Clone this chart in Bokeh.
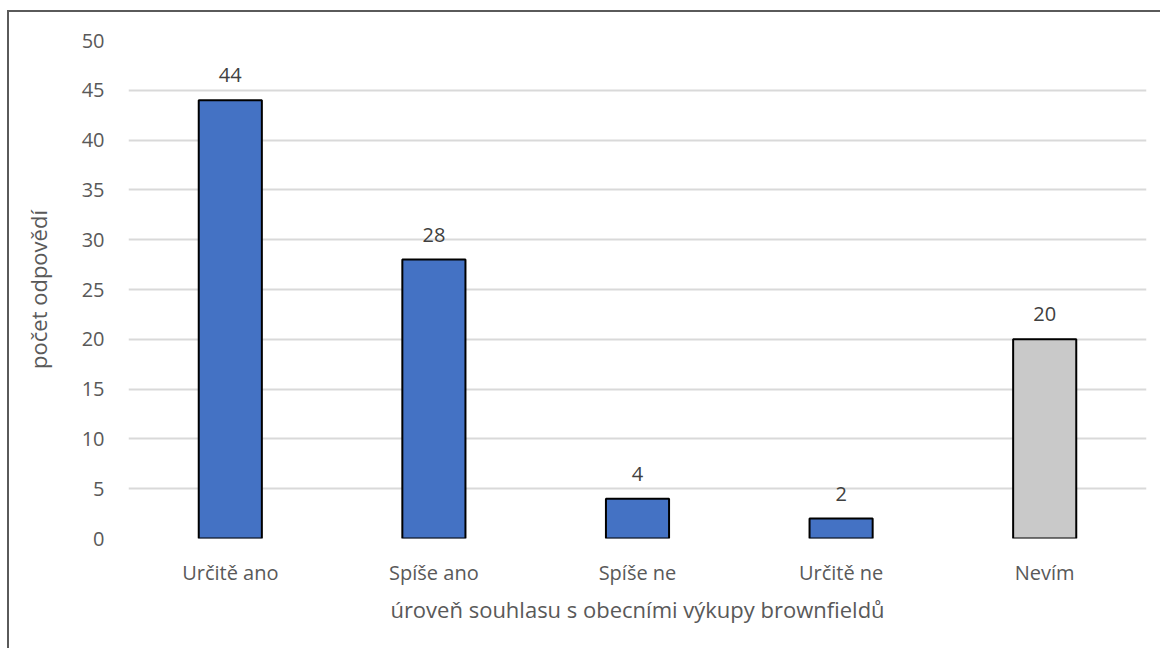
from bokeh.plotting import figure
from bokeh.models import ColumnDataSource, FactorRange, Range1d, FixedTicker
from bokeh.embed import file_html
from bokeh.resources import INLINE
from bokeh.core.properties import value

categories = ["Určitě ano", "Spíše ano", "Spíše ne", "Určitě ne", "Nevím"]
counts = [44, 28, 4, 2, 20]
bar_colors = ["#4472C4", "#4472C4", "#4472C4", "#4472C4", "#C9C9C9"]
y_ticks = [0, 5, 10, 15, 20, 25, 30, 35, 40, 45, 50]

FONT = "Open Sans"
TXT = "#595959"

src = ColumnDataSource(dict(cat=categories, val=counts, col=bar_colors,
                            lab=[str(v) for v in counts]))

p = figure(x_range=FactorRange(*categories, range_padding=0),
           y_range=Range1d(0, 50),
           width=1153, height=638, output_backend="svg", toolbar_location=None,
           min_border_left=119, min_border_right=16, min_border_top=28,
           min_border_bottom=112)
p.styles = {"border-left": "2px solid #5a5a5a", "border-top": "2px solid #5a5a5a",
            "margin-left": "7px", "margin-top": "10px"}
p.outline_line_color = None
p.background_fill_color = "white"

p.vbar(x="cat", top="val", width=0.31, source=src, fill_color="col",
       line_color="black", line_width=2)
p.text(x="cat", y="val", text="lab", source=src, y_offset=-18,
       text_align="center", text_baseline="bottom", text_font=value(FONT),
       text_font_size="20px", text_color="#404040")

p.ygrid.grid_line_color = "#D9D9D9"
p.ygrid.grid_line_width = 2
p.xgrid.grid_line_color = None
p.yaxis.ticker = FixedTicker(ticks=y_ticks)

for ax in (p.xaxis, p.yaxis):
    ax.axis_line_color = None
    ax.major_tick_line_color = None
    ax.minor_tick_line_color = None
    ax.major_label_text_font = FONT
    ax.major_label_text_font_size = "20px"
    ax.major_label_text_color = TXT
    ax.axis_label_text_font = FONT
    ax.axis_label_text_font_size = "22px"
    ax.axis_label_text_color = TXT
    ax.axis_label_text_font_style = "normal"

p.yaxis.major_label_standoff = 18
p.xaxis.major_label_standoff = 14
p.yaxis.axis_label = "počet odpovědí"
p.yaxis.axis_label_standoff = 26
p.xaxis.axis_label = "úroveň souhlasu s obecními výkupy brownfieldů"
p.xaxis.axis_label_standoff = 5

open("out.html", "w").write(file_html(p, INLINE))
